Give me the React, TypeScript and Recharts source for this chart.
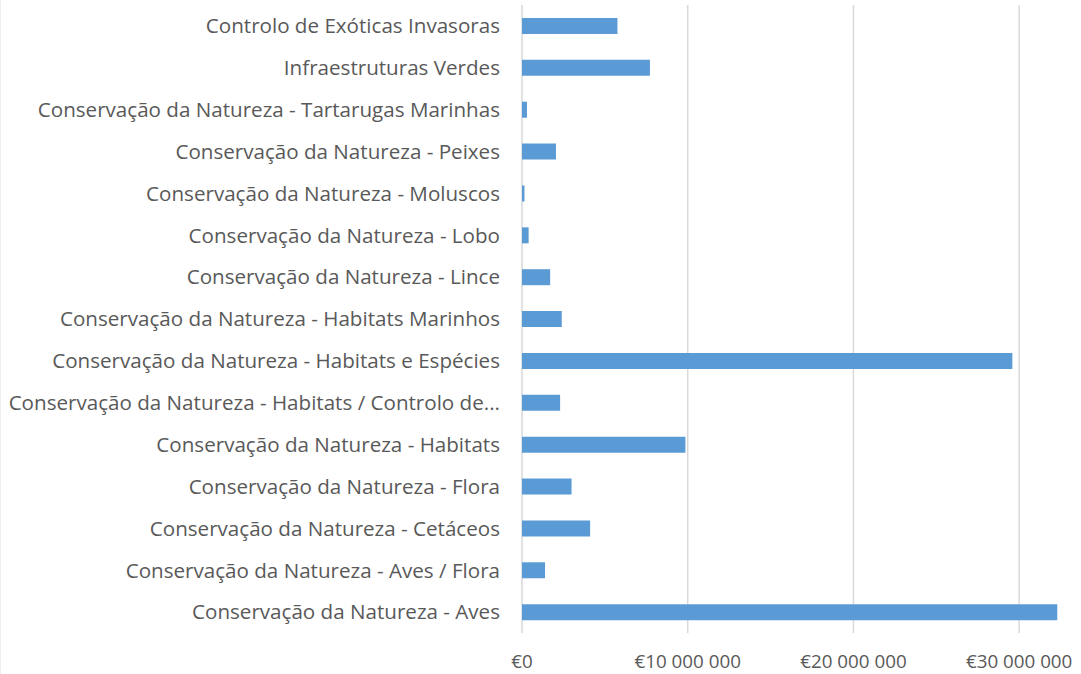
import { BarChart, Bar, XAxis, YAxis, CartesianGrid } from 'recharts'

const categories = [
  'Controlo de Exóticas Invasoras',
  'Infraestruturas Verdes',
  'Conservação da Natureza - Tartarugas Marinhas',
  'Conservação da Natureza - Peixes',
  'Conservação da Natureza - Moluscos',
  'Conservação da Natureza - Lobo',
  'Conservação da Natureza - Lince',
  'Conservação da Natureza - Habitats Marinhos',
  'Conservação da Natureza - Habitats e Espécies',
  'Conservação da Natureza - Habitats / Controlo de...',
  'Conservação da Natureza - Habitats',
  'Conservação da Natureza - Flora',
  'Conservação da Natureza - Cetáceos',
  'Conservação da Natureza - Aves / Flora',
  'Conservação da Natureza - Aves',
]

const values = [
  5760000, 7720000, 300000, 2050000, 150000, 400000, 1700000, 2400000,
  29590000, 2300000, 9860000, 2990000, 4110000, 1390000, 32300000,
]

const xTicks = [0, 10000000, 20000000, 30000000]

function formatEuro(v: number): string {
  if (v === 0) return '€0'
  return '€' + String(v).replace(/\B(?=(\d{3})+(?!\d))/g, ' ')
}

export default function App() {
  const data = categories.map((name, i) => ({ name, value: values[i] }))
  const font = '"Open Sans", sans-serif'

  return (
    <div
      style={{
        position: 'absolute',
        left: 0,
        top: 0,
        width: 1081,
        height: 674,
        overflow: 'hidden',
        background: '#fff',
        borderLeft: '1px solid #efefef',
        boxSizing: 'border-box',
        fontFamily: font,
      }}
    >
      <BarChart
        width={1105}
        height={674}
        data={data}
        layout="vertical"
        margin={{ top: 5, right: 4, bottom: 0, left: 0 }}
      >
        <CartesianGrid horizontal={false} stroke="#d9d9d9" strokeWidth={1.5} />
        <XAxis
          type="number"
          domain={[0, 35000000]}
          ticks={xTicks}
          tickFormatter={formatEuro}
          axisLine={false}
          tickLine={false}
          height={41}
          tickMargin={16}
          tick={{ fontSize: 18.8, fill: '#595959', fontFamily: font }}
          interval={0}
        />
        <YAxis
          type="category"
          dataKey="name"
          width={521}
          axisLine={false}
          tickLine={false}
          tickMargin={16}
          interval={0}
          tick={{ fontSize: 20.6, fill: '#595959', fontFamily: font }}
        />
        <Bar dataKey="value" fill="#5b9bd5" barSize={16} isAnimationActive={false} />
      </BarChart>
    </div>
  )
}
